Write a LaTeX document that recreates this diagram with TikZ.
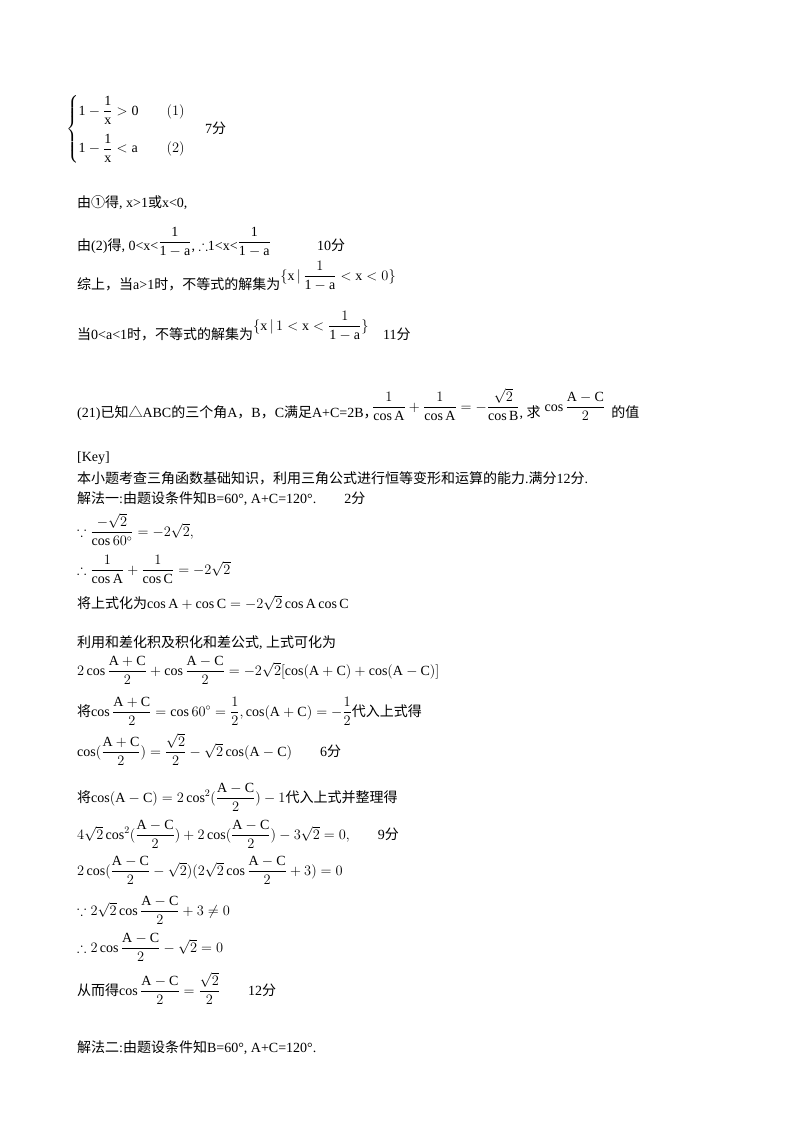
\documentclass[tikz,border=0pt]{standalone}
\usepackage{amsmath,amssymb}
\usepackage{fontspec}
\setmainfont{Liberation Serif}
\newfontfamily\cjk{Noto Sans CJK SC}
\newcommand{\zh}[1]{{\cjk #1}}
\begin{document}
\begin{tikzpicture}[x=1pt,y=-1pt,
  txt/.style={anchor=base west,inner sep=0pt,font=\fontsize{14}{16}\selectfont}]
\useasboundingbox (0,0) rectangle (800,1133);
\node[txt] (s1) at (66,133) {$\left\{\begin{array}{@{}l@{\qquad}l}\mathrm{1-\dfrac{1}{x}>0} & (1)\\[14pt] \mathrm{1-\dfrac{1}{x}<a} & (2)\end{array}\right.$};
\node[txt] (p7) at (205,133) {7\zh{分}};
\node[txt] (l1) at (77,207) {\zh{由①得}, x>1\zh{或}x<0,};
\node[txt] (l2) at (77,250) {\zh{由}(2)\zh{得}, 0<x<\raisebox{4pt}{$\dfrac{\mathrm{1}}{\mathrm{1-a}}$}, $\therefore$1<x<\raisebox{4pt}{$\dfrac{\mathrm{1}}{\mathrm{1-a}}$}};
\node[txt] (p10) at (317,250) {10\zh{分}};
\node[txt] (l3) at (77,289) {\zh{综上，当}a>1\zh{时，不等式的解集为}\raisebox{9pt}{$\{\mathrm{x}\,|\,\dfrac{1}{\mathrm{1-a}}<\mathrm{x}<0\}$}};
\node[txt] (l4) at (77,339) {\zh{当}0<a<1\zh{时，不等式的解集为}\raisebox{9pt}{$\{\mathrm{x}\,|\,1<\mathrm{x}<\dfrac{1}{\mathrm{1-a}}\}$}};
\node[txt] (p11) at (383,339) {11\zh{分}};
\node[txt] (q) at (77,417) {(21)\zh{已知△}ABC\zh{的三个角}A\zh{，}B\zh{，}C\zh{满足}A+C=2B\zh{，}};
\node[txt] (qf) at (372,417) {\raisebox{6pt}{$\dfrac{1}{\cos\mathrm{A}}+\dfrac{1}{\cos\mathrm{A}}=-\dfrac{\sqrt2}{\cos\mathrm{B}}$}, \zh{求}\;\raisebox{6pt}{$\cos\dfrac{\mathrm{A-C}}{2}$}\;\,\zh{的值}};
\node[txt] (key) at (77,461) {[Key]};
\node[txt] (k1) at (77,483) {\zh{本小题考查三角函数基础知识，利用三角公式进行恒等变形和运算的能力}.\zh{满分}12\zh{分}.};
\node[txt] (k2) at (77,503) {\zh{解法一}:\zh{由题设条件知}B=60°, A+C=120°.\qquad 2\zh{分}};
\node[txt] (k3) at (77,536) {$\because\dfrac{-\sqrt2}{\cos60^\circ}=-2\sqrt2,$};
\node[txt] (k4) at (77,574) {$\therefore\dfrac{1}{\cos\mathrm{A}}+\dfrac{1}{\cos\mathrm{C}}=-2\sqrt2$};
\node[txt] (k5) at (77,608) {\zh{将上式化为}$\cos\mathrm{A}+\cos\mathrm{C}=-2\sqrt2\cos\mathrm{A}\cos\mathrm{C}$};
\node[txt] (k6) at (77,647) {\zh{利用和差化积及积化和差公式}, \zh{上式可化为}};
\node[txt] (k7) at (77,675) {$2\cos\dfrac{\mathrm{A+C}}{2}+\cos\dfrac{\mathrm{A-C}}{2}=-2\sqrt2[\cos(\mathrm{A+C})+\cos(\mathrm{A-C})]$};
\node[txt] (k8) at (77,716) {\zh{将}$\cos\dfrac{\mathrm{A+C}}{2}=\cos60^\circ=\dfrac12,\cos(\mathrm{A+C})=-\dfrac12$\zh{代入上式得}};
\node[txt] (k9) at (77,756) {$\cos(\dfrac{\mathrm{A+C}}{2})=\dfrac{\sqrt2}{2}-\sqrt2\cos(\mathrm{A-C})$\qquad 6\zh{分}};
\node[txt] (k10) at (77,802) {\zh{将}$\cos(\mathrm{A-C})=2\cos^2(\dfrac{\mathrm{A-C}}{2})-1$\zh{代入上式并整理得}};
\node[txt] (k11) at (77,839) {$4\sqrt2\cos^2(\dfrac{\mathrm{A-C}}{2})+2\cos(\dfrac{\mathrm{A-C}}{2})-3\sqrt2=0,$\qquad 9\zh{分}};
\node[txt] (k12) at (77,875) {$2\cos(\dfrac{\mathrm{A-C}}{2}-\sqrt2)(2\sqrt2\cos\dfrac{\mathrm{A-C}}{2}+3)=0$};
\node[txt] (k13) at (77,915) {$\because2\sqrt2\cos\dfrac{\mathrm{A-C}}{2}+3\neq0$};
\node[txt] (k14) at (77,952) {$\therefore2\cos\dfrac{\mathrm{A-C}}{2}-\sqrt2=0$};
\node[txt] (k15) at (77,995) {\zh{从而得}$\cos\dfrac{\mathrm{A-C}}{2}=\dfrac{\sqrt2}{2}$\qquad 12\zh{分}};
\node[txt] (k16) at (77,1052) {\zh{解法二}:\zh{由题设条件知}B=60°, A+C=120°.};
\end{tikzpicture}
\end{document}
